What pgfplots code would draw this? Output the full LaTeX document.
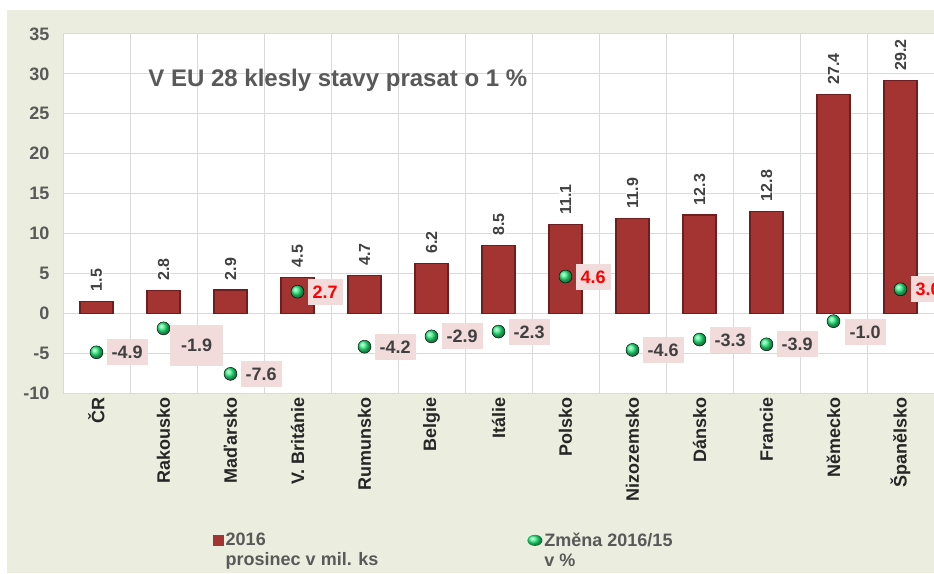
\documentclass[border=0pt]{standalone}
\usepackage{fontspec}
\setmainfont{Liberation Sans}
\usepackage{pgfplots}
\pgfplotsset{compat=1.18}
\usetikzlibrary{shapes.geometric}
\definecolor{bg}{RGB}{235,238,223}
\definecolor{gridc}{RGB}{217,217,217}
\definecolor{tickc}{RGB}{89,89,89}
\definecolor{barD}{RGB}{110,30,30}
\definecolor{barM}{RGB}{163,52,50}
\definecolor{pinkc}{RGB}{242,220,219}
\definecolor{greenc}{RGB}{40,240,125}
\definecolor{lblc}{RGB}{64,64,64}
\begin{document}
\begin{tikzpicture}
\useasboundingbox (0pt,0pt) rectangle (934pt,573pt);
\fill[bg] (7pt,0pt) rectangle (934pt,563pt);
\begin{axis}[
  at={(63pt,180pt)}, anchor=south west,
  scale only axis, width=871pt, height=359pt,
  xmin=0.5, xmax=13.5, ymin=-10, ymax=35,
  axis background/.style={fill=white},
  xtick={1,...,13},
  xticklabels={ČR,Rakousko,Maďarsko,V. Británie,Rumunsko,Belgie,Itálie,Polsko,Nizozemsko,Dánsko,Francie,Německo,Španělsko},
  minor xtick={1.5,2.5,...,12.5},
  ytick={-10,-5,...,35},
  ymajorgrids, xminorgrids,
  major grid style={gridc, line width=1pt},
  minor grid style={gridc, line width=1pt},
  axis line style={gridc, line width=1pt},
  major tick length=0pt, minor tick length=0pt,
  x tick label style={rotate=90, anchor=east, font=\fontsize{18}{18}\selectfont\bfseries, text=black!85},
  y tick label style={font=\fontsize{18}{18}\selectfont\bfseries, text=tickc},
  xticklabel shift=1pt, yticklabel shift=10pt,
  /pgf/number format/assume math mode=true,
  /pgf/number format/fixed, /pgf/number format/precision=1,
  clip=false,
  legend columns=2,
  legend style={at={(0.168,-0.378)}, anchor=north west, draw=none, fill=none,
    font=\fontsize{18}{20}\selectfont\bfseries, text=tickc,
    cells={align=left},
    /tikz/every even column/.append style={column sep=147pt}},
]
\addplot[ybar, bar width=33pt, draw=barD, line width=1.2pt, fill=barM,
  nodes near coords,
  every node near coord/.append style={rotate=90, anchor=west, fill=white, text=lblc,
    font=\fontsize{16}{16}\selectfont\bfseries, inner sep=1pt, outer xsep=9pt,
    /pgf/number format/fixed zerofill},
  legend image code/.code={\fill[barM] (0pt,5pt) rectangle (10pt,15pt);}]
coordinates {(1,1.5) (2,2.8) (3,2.9) (4,4.5) (5,4.7) (6,6.2) (7,8.5) (8,11.1) (9,11.9) (10,12.3) (11,12.8) (12,27.4) (13,29.2)};
\addlegendentry{2016\\prosinec v mil. ks}
\addplot[only marks, mark=ball, mark size=6.5pt, mark options={ball color=greenc},
  nodes near coords,
  every node near coord/.append style={anchor=west, fill=pinkc, text=lblc, xshift=10pt,
    font=\fontsize{18}{18}\selectfont\bfseries, inner xsep=5pt, text height=13pt, text depth=0pt, inner ysep=6.5pt,
    /pgf/number format/fixed zerofill},
  legend image code/.code={\node[ellipse, ball color=greenc, inner sep=0pt, minimum width=15pt, minimum height=11pt] at (6pt,10pt) {};}]
coordinates {(1,-4.9) (3,-7.6) (5,-4.2) (6,-2.9) (7,-2.3) (9,-4.6) (10,-3.3) (11,-3.9)};
\addlegendentry{Změna 2016/15\\v \%}
\addplot[only marks, mark=ball, mark size=6.5pt, mark options={ball color=greenc}, forget plot,
  nodes near coords,
  every node near coord/.append style={anchor=west, fill=pinkc, text=red, xshift=10pt,
    font=\fontsize{18}{18}\selectfont\bfseries, inner xsep=5pt, text height=13pt, text depth=0pt, inner ysep=6.5pt,
    /pgf/number format/fixed zerofill}]
coordinates {(4,2.7) (8,4.6) (13,3.0)};
\addplot[only marks, mark=ball, mark size=6.5pt, mark options={ball color=greenc}, forget plot,
  nodes near coords,
  every node near coord/.append style={anchor=west, fill=pinkc, text=lblc, xshift=6.5pt, yshift=-17pt,
    font=\fontsize{18}{18}\selectfont\bfseries, minimum width=53pt, minimum height=41pt,
    /pgf/number format/fixed zerofill}]
coordinates {(2,-1.9)};
\addplot[only marks, mark=ball, mark size=6.5pt, mark options={ball color=greenc}, forget plot,
  nodes near coords,
  every node near coord/.append style={anchor=west, fill=pinkc, text=lblc, xshift=11pt, yshift=-11pt,
    font=\fontsize{18}{18}\selectfont\bfseries, inner xsep=5pt, text height=13pt, text depth=0pt, inner ysep=6.5pt,
    /pgf/number format/fixed zerofill}]
coordinates {(12,-1.0)};
\node[anchor=west, text=tickc, font=\fontsize{24}{24}\selectfont\bfseries] at (rel axis cs:0.094,0.872) {V EU 28 klesly stavy prasat o 1 \%};
\end{axis}
\end{tikzpicture}
\end{document}
